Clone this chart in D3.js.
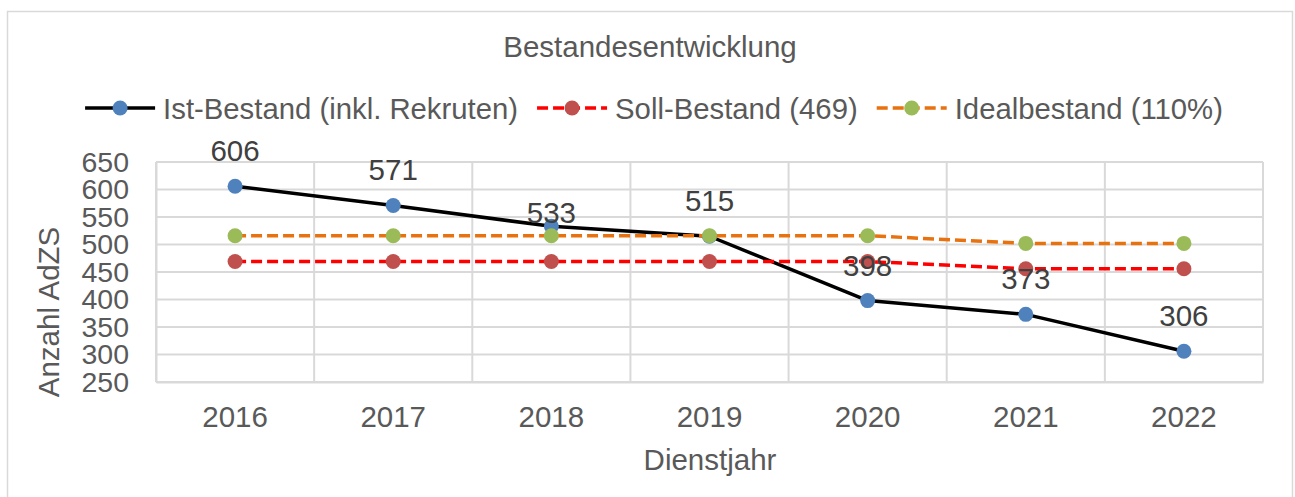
<!DOCTYPE html>
<html>
<head>
<meta charset="utf-8">
<script src="https://cdn.jsdelivr.net/npm/d3@7"></script>
<style>
  html, body { margin: 0; padding: 0; background: #fff; }
  svg { display: block; }
  text { font-family: "Liberation Sans", Arial, sans-serif; }
</style>
</head>
<body>
<svg id="chart" width="1295" height="497"></svg>
<script>
const categories = ["2016", "2017", "2018", "2019", "2020", "2021", "2022"];
const istBestand = [606, 571, 533, 515, 398, 373, 306];
const sollBestand = [469, 469, 469, 469, 469, 456, 456];
const idealBestand = [516, 516, 516, 516, 516, 502, 502];
const yTicks = [250, 300, 350, 400, 450, 500, 550, 600, 650];
const seriesNames = ["Ist-Bestand (inkl. Rekruten)", "Soll-Bestand (469)", "Idealbestand (110%)"];
const chartTitle = "Bestandesentwicklung";
const xTitle = "Dienstjahr";
const yTitle = "Anzahl AdZS";

const series = [
  { name: seriesNames[0], values: istBestand, line: "#000000", marker: "#4F81BD", dash: null },
  { name: seriesNames[1], values: sollBestand, line: "#FF0000", marker: "#C0504D", dash: "11,5" },
  { name: seriesNames[2], values: idealBestand, line: "#E8720F", marker: "#9BBB59", dash: "11,5" }
];

const svg = d3.select("#chart");
const plot = { left: 156, right: 1263, top: 162, bottom: 382 };
const grid = "#D9D9D9";
const textCol = "#595959";
const ff = "'Liberation Sans', Arial, sans-serif";
// label placement (the 2018 label sits lower, overlapping its marker, as in the original)
const labelShift = { "2018": -3 };
const defaultLabelShift = -25;

// chart border
svg.append("rect").attr("x", 7.5).attr("y", 11.5).attr("width", 1285).attr("height", 500)
  .attr("fill", "#fff").attr("stroke", grid).attr("stroke-width", 1.5);

const x = d3.scaleBand().domain(categories).range([plot.left, plot.right]).padding(0);
const y = d3.scaleLinear().domain([250, 650]).range([plot.bottom, plot.top]);
const cx = d => x(d) + x.bandwidth() / 2;

// horizontal gridlines
svg.append("g").selectAll("line").data(yTicks).join("line")
  .attr("x1", plot.left).attr("x2", plot.right)
  .attr("y1", d => y(d)).attr("y2", d => y(d))
  .attr("stroke", grid).attr("stroke-width", 2);

// vertical gridlines at category boundaries
const bounds = categories.map(c => x(c)).concat([plot.right]);
svg.append("g").selectAll("line").data(bounds).join("line")
  .attr("x1", d => d).attr("x2", d => d)
  .attr("y1", plot.top).attr("y2", plot.bottom)
  .attr("stroke", grid).attr("stroke-width", 2);

// y axis
const yAxis = svg.append("g").attr("transform", `translate(${plot.left},0)`)
  .call(d3.axisLeft(y).tickValues(yTicks).tickSize(0).tickPadding(27));
yAxis.select(".domain").attr("stroke", grid).attr("stroke-width", 2);
yAxis.selectAll("text").attr("font-size", 28.5).attr("fill", textCol).attr("font-family", ff);

// x axis
const xAxis = svg.append("g").attr("transform", `translate(0,${plot.bottom})`)
  .call(d3.axisBottom(x).tickSize(0).tickPadding(24));
xAxis.select(".domain").attr("stroke", grid).attr("stroke-width", 2);
xAxis.selectAll("text").attr("font-size", 29.5).attr("fill", textCol).attr("font-family", ff);

// lines
const lineGen = d3.line().x((d, i) => cx(categories[i])).y(d => y(d));
series.forEach(s => {
  svg.append("path").datum(s.values)
    .attr("d", lineGen)
    .attr("fill", "none")
    .attr("stroke", s.line)
    .attr("stroke-width", 3.5)
    .attr("stroke-linejoin", "round")
    .attr("stroke-dasharray", s.dash);
});
// markers
series.forEach(s => {
  svg.append("g").selectAll("circle").data(s.values).join("circle")
    .attr("cx", (d, i) => cx(categories[i]))
    .attr("cy", d => y(d))
    .attr("r", 7.5)
    .attr("fill", s.marker);
});

// data labels for Ist-Bestand
svg.append("g").selectAll("text").data(istBestand).join("text")
  .attr("x", (d, i) => cx(categories[i]))
  .attr("y", (d, i) => y(d) + (labelShift[categories[i]] ?? defaultLabelShift))
  .attr("text-anchor", "middle")
  .attr("font-size", 29.5)
  .attr("fill", "#404040")
  .text(d => d);

// title
svg.append("text").attr("x", 650).attr("y", 57).attr("text-anchor", "middle")
  .attr("font-size", 29.5).attr("fill", textCol).text(chartTitle);

// axis titles
svg.append("text").attr("x", 710).attr("y", 470).attr("text-anchor", "middle")
  .attr("font-size", 29.5).attr("fill", textCol).text(xTitle);
svg.append("text").attr("transform", "translate(59,312) rotate(-90)")
  .attr("text-anchor", "middle").attr("font-size", 29.5).attr("fill", textCol).text(yTitle);

// legend
const legendY = 108;
const lg = svg.append("g");
const items = series.map(s => {
  const g = lg.append("g");
  g.append("line").attr("x1", 0).attr("x2", 70).attr("y1", legendY).attr("y2", legendY)
    .attr("stroke", s.line).attr("stroke-width", 3.5).attr("stroke-dasharray", s.dash);
  g.append("circle").attr("cx", 35).attr("cy", legendY).attr("r", 7.5).attr("fill", s.marker);
  const t = g.append("text").attr("x", 78).attr("y", legendY + 10.5)
    .attr("font-size", 29.3).attr("fill", textCol).text(s.name);
  return { g, w: 78 + t.node().getComputedTextLength() };
});
const gap = 19;
const total = d3.sum(items, d => d.w) + gap * (items.length - 1);
let pos = 654 - total / 2;
items.forEach(it => { it.g.attr("transform", `translate(${pos},0)`); pos += it.w + gap; });
</script>
</body>
</html>
